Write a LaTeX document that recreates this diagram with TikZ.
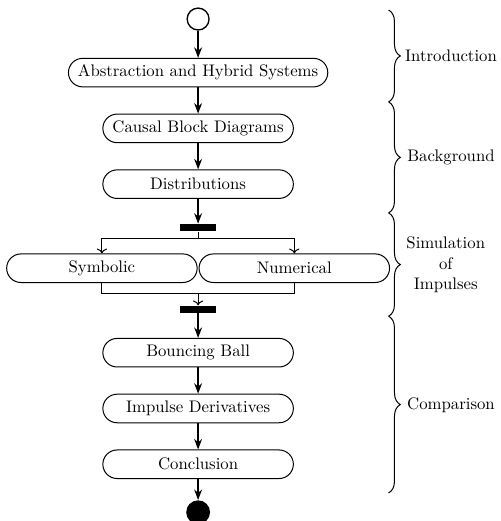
\documentclass[tikz,border=0pt]{standalone}
\usepackage{tikz}
\usetikzlibrary{positioning, arrows.meta, decorations.pathreplacing}

\begin{document}
\begin{tikzpicture}[
  node distance=0.55cm,
  act/.style={draw, semithick, rectangle, rounded corners=3mm, minimum width=4cm,
    minimum height=0.6cm, inner xsep=2mm},
  bar/.style={fill=black, minimum width=0.76cm, minimum height=0.15cm, inner sep=0pt},
  arr/.style={->, >={Stealth[length=2.2mm]}, thick},
  brc/.style={decorate, semithick, decoration={brace, amplitude=7pt}}
]
  \useasboundingbox (-4.16,0.4) rectangle (6.36,-10.54);

  \node[draw, thick, circle, minimum size=0.46cm, inner sep=0pt] (start) at (0,0) {};
  \node[act, below=0.57cm of start] (abs) {Abstraction and Hybrid Systems};
  \node[act, below=of abs]  (cbd)  {Causal Block Diagrams};
  \node[act, below=of cbd]  (dist) {Distributions};
  \node[bar, below=0.52cm of dist] (bar1) {};
  \node[act, below=0.46cm of bar1, xshift=-2.02cm] (sym) {Symbolic};
  \node[act, below=0.46cm of bar1, xshift=2.02cm]  (num) {Numerical};
  \node[bar, below=1.55cm of bar1] (bar2) {};
  \node[act, below=0.52cm of bar2] (bb)  {Bouncing Ball};
  \node[act, below=of bb]   (imp)  {Impulse Derivatives};
  \node[act, below=of imp]  (conc) {Conclusion};
  \node[fill=black, circle, minimum size=0.5cm, inner sep=0pt, below=0.44cm of conc] (stop) {};

  \draw[arr] (start) -- (abs);
  \draw[arr] (abs)  -- (cbd);
  \draw[arr] (cbd)  -- (dist);
  \draw[arr] (dist) -- (bar1);

  % fork
  \coordinate[below=0.15cm of bar1.south] (fork);
  \draw[semithick] (bar1.south) -- (fork);
  \draw[semithick, ->] (fork) -| (sym.north);
  \draw[semithick, ->] (fork) -| (num.north);

  % join
  \coordinate[above=0.25cm of bar2.north] (merge);
  \draw[semithick] (sym.south) |- (merge);
  \draw[semithick] (num.south) |- (merge);
  \draw[semithick, ->] (merge) -- (bar2.north);

  \draw[arr] (bar2) -- (bb);
  \draw[arr] (bb)   -- (imp);
  \draw[arr] (imp)  -- (conc);
  \draw[arr] (conc) -- (stop);

  % chapters
  \coordinate (b0) at (4.0,0.19);
  \coordinate (b1) at (4.0,-1.74);
  \coordinate (b2) at (4.0,-4.07);
  \coordinate (b3) at (4.0,-6.24);
  \coordinate (b4) at (4.0,-9.95);
  \draw[brc] (b0) -- (b1);
  \draw[brc] (b1) -- (b2);
  \draw[brc] (b2) -- (b3);
  \draw[brc] (b3) -- (b4);

  \node (intro) at (5.31,-0.78) {Introduction};
  \node (back)  at (5.31,-2.9)  {Background};
  \node[align=center] (simul) at (5.2,-5.16) {Simulation\\of\\Impulses};
  \node (comp)  at (5.31,-8.1)  {Comparison};
\end{tikzpicture}
\end{document}
